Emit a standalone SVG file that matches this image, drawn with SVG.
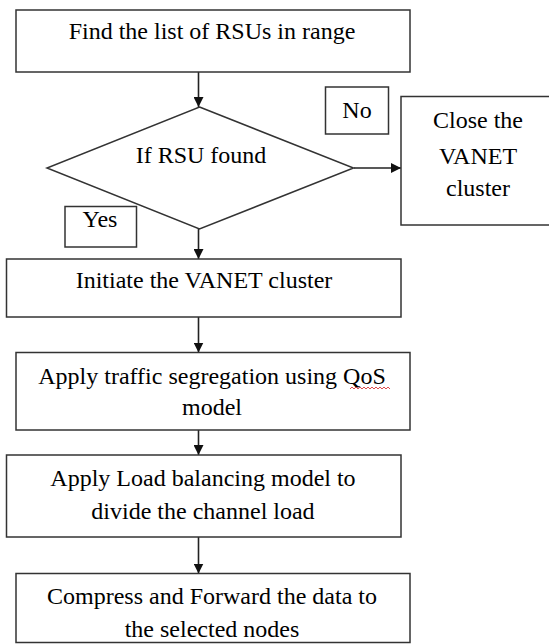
<svg xmlns="http://www.w3.org/2000/svg" width="549" height="644" viewBox="0 0 549 644" font-family="Liberation Serif, Times New Roman, serif">
  <style>
    .box { fill: #ffffff; stroke: #333333; stroke-width: 1.5; }
    .lbl { font-size: 24px; fill: #000000; text-anchor: middle; }
    .edge { stroke: #222222; stroke-width: 1.6; fill: none; marker-end: url(#arrow); }
  </style>
  <defs>
    <marker id="arrow" viewBox="0 0 10 10" refX="10" refY="5" markerWidth="10" markerHeight="10" markerUnits="userSpaceOnUse" orient="auto">
      <path d="M0,0 L10,5 L0,10 Z" fill="#111111"/>
    </marker>
  </defs>
  <rect width="549" height="644" fill="#ffffff"/>

  <g id="connectors">
    <line class="edge" x1="198.5" y1="72" x2="198.5" y2="107"/>
    <line class="edge" x1="354" y1="168" x2="401" y2="168"/>
    <line class="edge" x1="198.5" y1="229" x2="198.5" y2="259"/>
    <line class="edge" x1="198.5" y1="317" x2="198.5" y2="352.5"/>
    <line class="edge" x1="198.5" y1="430" x2="198.5" y2="455"/>
    <line class="edge" x1="198.5" y1="537" x2="198.5" y2="573.5"/>
  </g>

  <g id="find-rsus">
    <rect class="box" x="16" y="10" width="394" height="62"/>
    <text class="lbl" font-family="Liberation Serif, serif" x="212" y="39">Find the list of RSUs in range</text>
  </g>

  <g id="rsu-found">
    <polygon class="box" points="199.5,107 353.5,168 199.5,229 47,168"/>
    <text class="lbl" font-family="Liberation Serif, serif" x="201" y="163">If RSU found</text>
  </g>

  <g id="label-no">
    <rect class="box" x="325.5" y="87" width="63" height="47"/>
    <text class="lbl" font-family="Liberation Serif, serif" x="357" y="118">No</text>
  </g>

  <g id="close-cluster">
    <rect class="box" x="401" y="96.5" width="150" height="128.5"/>
    <text class="lbl" font-family="Liberation Serif, serif" x="478" y="128">Close the</text>
    <text class="lbl" font-family="Liberation Serif, serif" x="478" y="164">VANET</text>
    <text class="lbl" font-family="Liberation Serif, serif" x="478" y="196">cluster</text>
  </g>

  <g id="label-yes">
    <rect class="box" x="65" y="206.5" width="71.5" height="40.5"/>
    <text class="lbl" font-family="Liberation Serif, serif" x="100" y="227">Yes</text>
  </g>

  <g id="initiate-cluster">
    <rect class="box" x="6.5" y="259" width="394.5" height="58"/>
    <text class="lbl" font-family="Liberation Serif, serif" x="204" y="288">Initiate the VANET cluster</text>
  </g>

  <g id="traffic-segregation">
    <rect class="box" x="16" y="352.5" width="394" height="77.5"/>
    <text class="lbl" font-family="Liberation Serif, serif" x="212" y="384">Apply traffic segregation using QoS</text>
    <text class="lbl" font-family="Liberation Serif, serif" x="212" y="415">model</text>
    <path d="M350,389 l2,-2 l2,2 l2,-2 l2,2 l2,-2 l2,2 l2,-2 l2,2 l2,-2 l2,2 l2,-2 l2,2 l2,-2 l2,2 l2,-2 l2,2 l2,-2 l2,2 l2,-2 l2,2" fill="none" stroke="#d42020" stroke-width="0.8"/>
  </g>

  <g id="load-balancing">
    <rect class="box" x="6.5" y="455" width="394.5" height="82"/>
    <text class="lbl" font-family="Liberation Serif, serif" x="203" y="486">Apply Load balancing model to</text>
    <text class="lbl" font-family="Liberation Serif, serif" x="203" y="519">divide the channel load</text>
  </g>

  <g id="compress-forward">
    <rect class="box" x="16" y="573.5" width="394" height="69"/>
    <text class="lbl" font-family="Liberation Serif, serif" x="212" y="604">Compress and Forward the data to</text>
    <text class="lbl" font-family="Liberation Serif, serif" x="212" y="637">the selected nodes</text>
  </g>
</svg>
